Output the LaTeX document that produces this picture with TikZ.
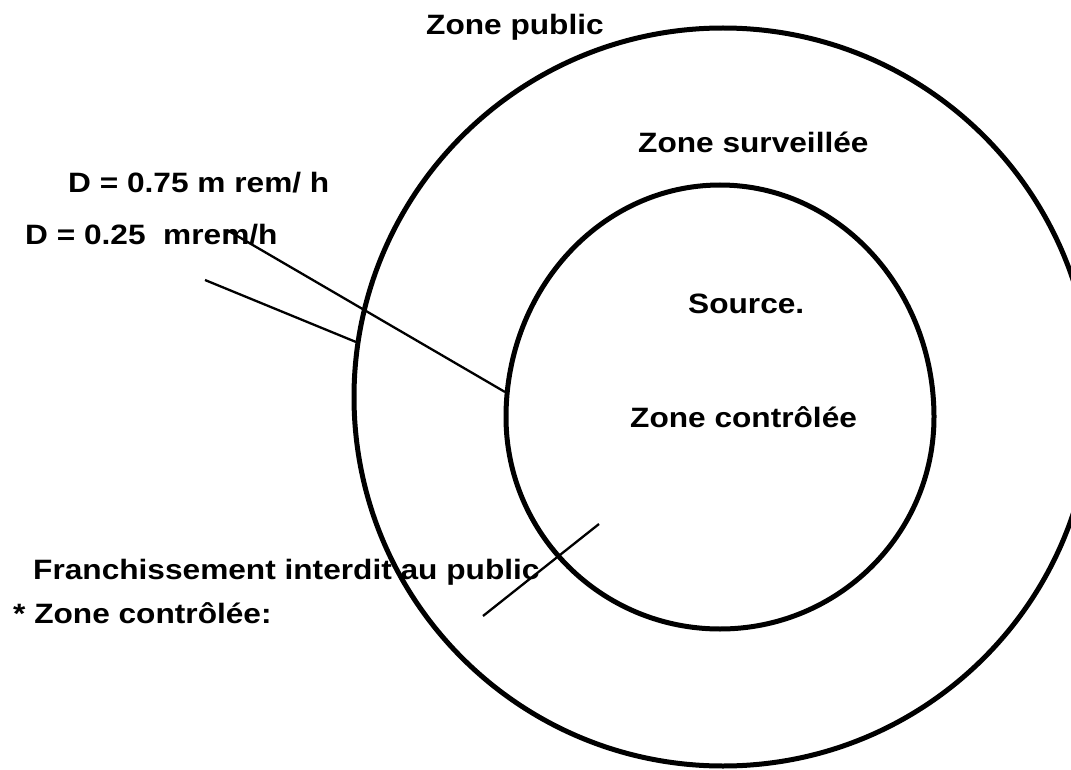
\documentclass[tikz,border=0pt]{standalone}
\usepackage{fontspec}
\setmainfont{Liberation Sans}
\newcommand{\hs}[1]{\scalebox{1.13}[1]{#1}}
\tikzset{
  lbl/.style={anchor=base west, inner sep=0pt, font=\fontsize{28}{30}\selectfont\bfseries},
  ring/.style={line width=5pt},
  lead/.style={line width=2.3pt}
}
\begin{document}
\begin{tikzpicture}[x=1pt,y=-1pt]
\useasboundingbox (0,0) rectangle (1071,770);
\clip (0,0) rectangle (1071,770);
% outer zone
\draw[ring] (723,397) circle[radius=369];
% inner zone (lower half slightly flatter than upper half)
\draw[ring] (934,417) arc[start angle=0, end angle=180, x radius=214, y radius=212]
                      arc[start angle=180, end angle=360, x radius=214, y radius=232] -- cycle;
% labels
\node[lbl] (zpub) at (426,35) {\hs{Zone public}};
\node[lbl] (zsurv) at (638,153) {\hs{Zone surveillée}};
\node[lbl] (d75) at (68,193) {\hs{D = 0.75 m rem/ h}};
\node[lbl] (d25) at (25,244) {\hs{D = 0.25\ \ mrem/h}};
\node[lbl] (src) at (688,313) {\hs{Source.}};
\node[lbl] (zctrl) at (630,427) {\hs{Zone contrôlée}};
\node[lbl] (franch) at (33,579) {\hs{Franchissement interdit au public}};
\node[lbl] (star) at (13,623) {\hs{* Zone contrôlée:}};
% leader lines
\coordinate (a1) at (227,230); \coordinate (a2) at (505,392);
\coordinate (b1) at (205,280); \coordinate (b2) at (356,342);
\coordinate (c1) at (483,616); \coordinate (c2) at (599,524);
\draw[lead] (a1) -- (a2);
\draw[lead] (b1) -- (b2);
\draw[lead] (c1) -- (c2);
\end{tikzpicture}
\end{document}
